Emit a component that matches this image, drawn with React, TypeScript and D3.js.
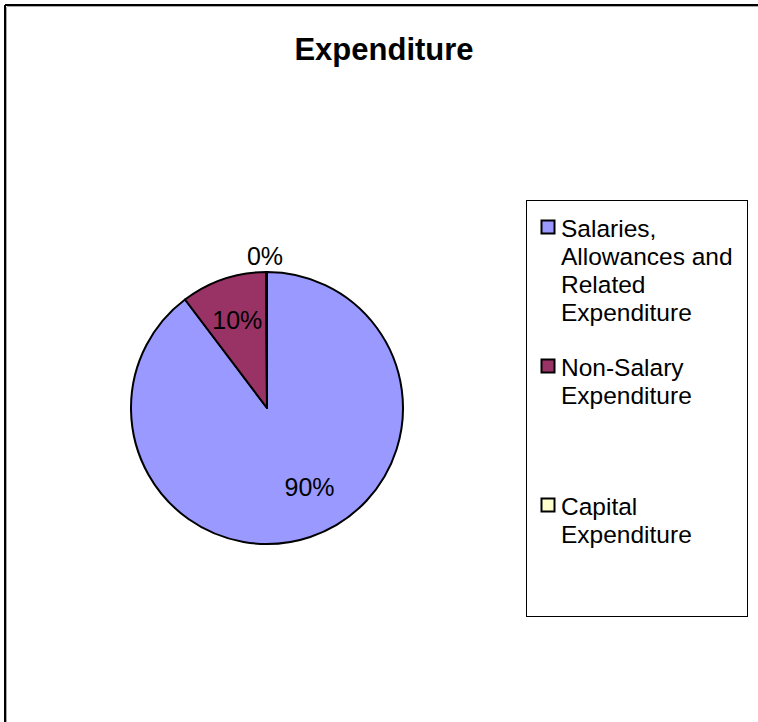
import React from "react";
import * as d3 from "d3";

const categories = ["Salaries, Allowances and Related Expenditure", "Non-Salary Expenditure", "Capital Expenditure"];
const values = [89.7, 10.2, 0.1];
const colors = ["#9999FF", "#993366", "#FFFFCC"];
const legendLines = [
  ["Salaries,", "Allowances and", "Related", "Expenditure"],
  ["Non-Salary", "Expenditure"],
  ["Capital", "Expenditure"],
];
const title = "Expenditure";

export default function App() {
  const W = 758, H = 722;
  const cx = 267, cy = 408, r = 136;
  const pie = d3.pie<number>().sort(null).value((d) => d);
  const arcs = pie(values);
  const arc = d3.arc<d3.PieArcDatum<number>>().innerRadius(0).outerRadius(r);
  const total = d3.sum(values);
  // label placement: radius factor and angular shift (radians) per slice
  const labelRadius = [0.66, 0.68, 1.12];
  const labelShift = [-0.17, 0, 0];
  const font = "'Liberation Sans', Arial, sans-serif";
  const legendStarts = [228, 367, 506];
  const lh = 28;
  return (
    <svg width={W} height={H} style={{ position: "absolute", left: 0, top: 0, display: "block" }}>
      <rect x={0} y={0} width={W} height={H} fill="#fff" />
      <line x1={5} y1={5} x2={W} y2={5} stroke="#000" strokeWidth={2} />
      <line x1={5} y1={5} x2={5} y2={H} stroke="#000" strokeWidth={2} />
      <line x1={7} y1={6.5} x2={W} y2={6.5} stroke="#aaa" strokeWidth={1} />
      <line x1={6.5} y1={7} x2={6.5} y2={H} stroke="#aaa" strokeWidth={1} />
      <text x={384} y={60} textAnchor="middle" fontFamily={font} fontWeight="bold" fontSize={31}>{title}</text>
      <g transform={`translate(${cx},${cy})`}>
        {arcs.map((a, i) => (
          <path key={i} d={arc(a) || ""} fill={colors[i]} stroke="#000" strokeWidth={2} strokeLinejoin="round" />
        ))}
        {arcs.map((a, i) => {
          const ang = (a.startAngle + a.endAngle) / 2 + labelShift[i];
          const rr = r * labelRadius[i];
          const x = i === 2 ? -2 : Math.sin(ang) * rr;
          const y = -Math.cos(ang) * rr;
          return (
            <text key={i} x={x} y={y} dy="0.36em" textAnchor="middle" fontFamily={font} fontSize={25} fill="#000">
              {d3.format(".0%")(values[i] / total)}
            </text>
          );
        })}
      </g>
      <rect x={526.5} y={200.5} width={221} height={416} fill="#fff" stroke="#000" strokeWidth={1} />
      {legendLines.map((lines, i) => (
        <g key={i}>
          <rect x={541.5} y={legendStarts[i] - 7.5} width={13} height={13} fill={colors[i]} stroke="#000" strokeWidth={2} />
          {lines.map((t, j) => (
            <text key={j} x={561} y={legendStarts[i] + j * lh} dy="0.36em" fontFamily={font} fontSize={24.5} fill="#000">{t}</text>
          ))}
        </g>
      ))}
    </svg>
  );
}
